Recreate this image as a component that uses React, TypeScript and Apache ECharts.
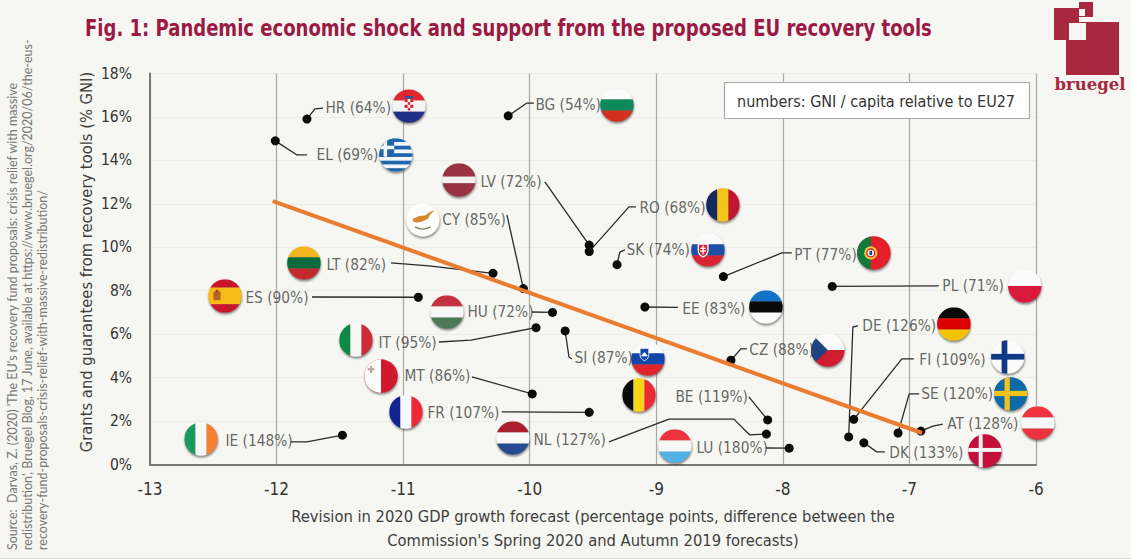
import React, { useEffect, useRef } from "react";
import * as echarts from "echarts";

const TITLE = "Fig. 1: Pandemic economic shock and support from the proposed EU recovery tools";
const Y_NAME = "Grants and guarantees from recovery tools (% GNI)";
const X_NAME = "Revision in 2020 GDP growth forecast (percentage points, difference between the\nCommission's Spring 2020 and Autumn 2019 forecasts)";
const NOTE = "numbers: GNI / capita relative to EU27";
const SOURCE_LINES = [
  "Source:  Darvas, Z. (2020) 'The EU's recovery fund proposals: crisis relief with massive",
  "redistribution', Bruegel Blog, 17 June, available at https://www.bruegel.org/2020/06/the-eus-",
  "recovery-fund-proposals-crisis-relief-with-massive-redistribution/",
];

const countries = ["HR","BG","EL","LV","RO","SK","LT","CY","PT","PL","ES","HU","EE","IT","SI","CZ","MT","FR","BE","NL","LU","IE","DE","FI","SE","AT","DK"];
const gni = [64,54,69,72,68,74,82,85,77,71,90,72,83,95,87,88,86,107,119,127,180,148,126,109,120,128,133];
const gdpRevision = [-11.76,-10.17,-12.01,-9.53,-9.53,-9.31,-10.29,-10.05,-8.47,-7.61,-10.88,-9.82,-9.09,-9.95,-9.72,-8.41,-9.98,-9.53,-8.12,-8.13,-7.95,-11.48,-7.48,-7.44,-7.09,-6.91,-7.36];
const support = [15.9,16.05,14.9,10.1,9.8,9.2,8.8,8.1,8.65,8.2,7.7,7.0,7.25,6.3,6.15,4.8,3.25,2.4,2.05,1.4,0.75,1.35,1.27,2.08,1.45,1.54,1.0];
const trendLine = [[-12.03,12.13],[-6.9,1.45]];

// annotation anchors, in axis units
const flagAt: Record<string, number[]> = {
  HR:[-10.954,16.5],BG:[-9.311,16.55],EL:[-11.057,14.25],LV:[-10.559,13.1],CY:[-10.844,11.26],RO:[-8.474,11.95],SK:[-8.592,9.88],
  PT:[-7.281,9.74],LT:[-11.784,9.28],ES:[-12.408,7.76],HU:[-10.654,7.02],PL:[-6.089,8.22],EE:[-8.134,7.25],IT:[-11.373,5.73],
  DE:[-6.649,6.47],SI:[-9.066,4.86],CZ:[-7.645,5.27],FI:[-6.223,4.95],MT:[-11.175,4.07],SE:[-6.2,3.25],BE:[-9.137,3.2],
  FR:[-10.978,2.42],AT:[-5.986,1.91],NL:[-10.133,1.22],LU:[-8.853,0.85],DK:[-6.404,0.62],IE:[-12.597,1.17],
};
const labelAt: Record<string, number[]> = {
  HR:[-11.618,16.42],BG:[-9.959,16.55],EL:[-11.689,14.25],LV:[-10.393,13.01],CY:[-10.694,11.26],RO:[-9.137,11.81],SK:[-9.24,9.88],
  PT:[-7.913,9.65],LT:[-11.61,9.19],ES:[-12.25,7.67],HU:[-10.496,7.02],PL:[-6.744,8.22],EE:[-8.798,7.16],IT:[-11.199,5.59],
  DE:[-7.376,6.38],SI:[-9.651,4.9],CZ:[-8.269,5.27],FI:[-6.926,4.81],MT:[-10.994,4.07],SE:[-6.91,3.25],BE:[-8.853,3.11],
  FR:[-10.812,2.37],AT:[-6.705,1.86],NL:[-9.975,1.13],LU:[-8.687,0.76],DK:[-7.163,0.53],IE:[-12.408,1.08],
};
const leaderBends: Record<string, number[][]> = {
  HR:[[-11.697,16.37],[-11.633,16.41]],BG:[[-10.022,16.64],[-9.967,16.64]],EL:[[-11.839,14.25],[-11.76,14.25]],LV:[[-9.88,13.01]],
  RO:[[-9.216,11.86],[-9.161,11.86]],CY:[[-10.18,11.49]],SK:[[-9.288,9.78],[-9.248,9.88]],PT:[[-8.008,9.74],[-7.929,9.74]],
  LT:[[-10.796,9.14],[-11.096,9.28]],ES:[[-11.72,7.71]],HU:[[-9.983,7.02]],PL:[[-6.768,8.22]],EE:[[-8.829,7.23]],
  IT:[[-10.464,5.73],[-10.717,5.64]],SI:[[-9.69,4.95],[-9.667,4.86]],CZ:[[-8.332,5.32],[-8.284,5.32]],DE:[[-7.447,6.33],[-7.407,6.38]],
  FI:[[-7.06,4.86],[-6.965,4.86]],SE:[[-7.002,3.25],[-6.923,3.25]],AT:[[-6.815,1.77],[-6.736,1.86]],DK:[[-7.258,0.58],[-7.194,0.58]],
  BE:[[-8.269,3.11]],NL:[[-8.261,1.36],[-8.387,2.09],[-8.9,2.09],[-9.374,1.04]],LU:[[-8.134,0.76]],MT:[[-10.457,4.03]],FR:[[-10.22,2.42]],
  IE:[[-11.76,1.04],[-11.886,1.04]],
};

const rect = (x: number, y: number, w: number, h: number, c: string) => `<rect x='${x}' y='${y}' width='${w}' height='${h}' fill='${c}'/>`;
const hBands = (cs: string[], ws?: number[]) => {
  const weights = ws || cs.map(() => 1);
  const total = weights.reduce((a, b) => a + b, 0);
  let y = 12;
  return cs.map((c, i) => {
    const h = (76 * weights[i]) / total;
    const s = rect(0, y, 100, h + 0.3, c);
    y += h;
    return s;
  }).join("");
};
const vBands = (cs: string[]) => cs.map((c, i) => rect(12 + (i * 76) / cs.length, 0, 76 / cs.length + 0.3, 100, c)).join("");
const nordic = (bg: string, fg: string, t = 14) => rect(0, 0, 100, 100, bg) + rect(36, 0, t, 100, fg) + rect(0, 43, 100, t, fg);

const flagArt: Record<string, string> = {
  HR: hBands(["#e2262d","#f4f4f4","#1f2f86"]) + rect(40,34,20,26,"#fff") + rect(40,34,7,7,"#d8232a") + rect(53,34,7,7,"#d8232a") + rect(47,41,6,6,"#d8232a") + rect(40,47,7,7,"#d8232a") + rect(53,47,7,7,"#d8232a") + rect(47,54,6,6,"#d8232a") + rect(40,27,20,6,"#35509a"),
  BG: hBands(["#fbfbfb","#0c8a5c","#d3301f"]),
  EL: rect(0,0,100,100,"#f4f6fa") + [12,29,46,63,80].map((y) => rect(0,y,100,8.5,"#1e67ad")).join("") + rect(0,12,46,42,"#1e67ad") + rect(22,12,8,42,"#f4f6fa") + rect(0,29,46,8,"#f4f6fa"),
  LV: hBands(["#983341","#f4f0ee","#983341"],[2,1,2]),
  CY: rect(0,0,100,100,"#fdfdfb") + "<path d='M27 48 L42 41 L55 40 L64 33 L78 27 L66 38 L62 47 L50 53 L38 56 L29 55Z' fill='#d8882a'/><path d='M32 66 Q50 76 68 66' stroke='#7f8a60' stroke-width='3' fill='none'/>",
  RO: vBands(["#16295f","#f5c41a","#c2152f"]),
  SK: hBands(["#fbfbfb","#1d4fa6","#d92232"]) + "<path d='M28 37 H50 V52 Q50 61 39 66 Q28 61 28 52Z' fill='#d92232' stroke='#fff' stroke-width='3'/>" + rect(37.5,40,3,20,"#fff") + rect(33,45,12,3,"#fff") + rect(32,51,14,3,"#fff"),
  PT: rect(0,0,100,100,"#e3202a") + rect(0,0,43,100,"#0f7a3a") + "<circle cx='43' cy='50' r='15' fill='#f0cb3c'/><circle cx='43' cy='50' r='9' fill='#fff' stroke='#d8232a' stroke-width='3'/><rect x='40' y='45' width='6' height='10' fill='#1f3f90'/>",
  LT: hBands(["#f3b61f","#0b6a3e","#c12a2e"]),
  ES: hBands(["#c8152b","#f6bb14","#c8152b"],[1,2,1]) + "<rect x='24' y='40' width='16' height='20' rx='3' fill='#b5612a'/><rect x='29' y='36' width='6' height='5' fill='#a0352a'/>",
  HU: hBands(["#c4313f","#f6f6f4","#4c7a56"]),
  PL: hBands(["#fbfbfb","#d91a3c"]),
  EE: hBands(["#1273c9","#0a0a0a","#fbfbfb"]),
  IT: vBands(["#0f8a45","#f8f8f6","#ce2b37"]),
  DE: hBands(["#0a0a0a","#dd0000","#f5c400"]),
  SI: hBands(["#fbfbfb","#1147a8","#e0242c"]) + "<path d='M32 26 H52 V40 Q52 50 42 54 Q32 50 32 40Z' fill='#1147a8' stroke='#f6f6f6' stroke-width='2'/><path d='M34 44 L42 34 L50 44Z' fill='#fff'/>",
  CZ: hBands(["#fbfbfb","#cf1c2f"]) + "<path d='M0 0 L50 50 L0 100Z' fill='#1f4483'/>",
  FI: nordic("#fbfbfb","#103a85",13),
  MT: rect(0,0,100,100,"#d1192e") + rect(0,0,50,100,"#fbfbfb") + rect(25,27,5,16,"#b9a8a8") + rect(20,32,15,5,"#b9a8a8"),
  SE: nordic("#0c6aa6","#f2c21d",12),
  BE: vBands(["#0a0a0a","#f7d518","#ec2a35"]),
  FR: vBands(["#11248f","#f8f8f8","#ee2a39"]),
  AT: hBands(["#ee3340","#f8f8f8","#ee3340"]),
  NL: hBands(["#ab1f2d","#f8f8f8","#274a91"]),
  LU: hBands(["#ee3340","#f8f8f8","#51b2e6"]),
  DK: nordic("#c2103a","#f4f4f4",9),
  IE: vBands(["#179a5c","#f8f8f8","#f57f35"]),
};
const flagUri = (code: string) => {
  const svg = `<svg xmlns='http://www.w3.org/2000/svg' viewBox='0 0 100 100' width='100' height='100'><defs><clipPath id='c'><circle cx='50' cy='50' r='38'/></clipPath><filter id='s' x='-30%' y='-30%' width='160%' height='160%'><feGaussianBlur stdDeviation='2.5'/></filter></defs><circle cx='51' cy='54' r='38' fill='#000' opacity='.45' filter='url(#s)'/><g clip-path='url(#c)'>${flagArt[code]}</g></svg>`;
  return "image://data:image/svg+xml;charset=utf-8," + encodeURIComponent(svg);
};

const FONT = "'DejaVu Sans Condensed', 'DejaVu Sans', sans-serif";
const BG = "#f6f6f2";
const INK = "#3f3f3f";
const LOGO = "#a9273f";

export default function App() {
  const ref = useRef<HTMLDivElement>(null);
  useEffect(() => {
    document.body.style.margin = "0";
    document.body.style.background = BG;
    const chart = echarts.init(ref.current!, null, { renderer: "svg" });
    const leaderSeries = countries.map((c, i) => ({
      type: "line", name: c + " leader", silent: true, showSymbol: false, symbol: "none", z: 3,
      lineStyle: { color: "#2a2a2a", width: 1.3 },
      data: [[gdpRevision[i], support[i]], ...leaderBends[c]],
    }));
    chart.setOption({
      animation: false,
      backgroundColor: BG,
      grid: { left: 150, right: 95, top: 73.5, bottom: 94.5 },
      xAxis: {
        type: "value", min: -13, max: -6, interval: 1,
        name: X_NAME, nameLocation: "middle", nameGap: 40,
        nameTextStyle: { fontFamily: FONT, fontSize: 16.4, color: INK, lineHeight: 24 },
        axisLine: { show: true, onZero: false, lineStyle: { color: "#777", width: 2 } },
        axisTick: { show: false },
        axisLabel: { fontFamily: FONT, fontSize: 17, color: "#333", margin: 16 },
        splitLine: { show: true, lineStyle: { color: "#a8a8a4", width: 1.2 } },
      },
      yAxis: {
        type: "value", min: 0, max: 18, interval: 2,
        name: Y_NAME, nameLocation: "middle", nameGap: 56, nameMoveOverlap: false,
        nameTextStyle: { fontFamily: FONT, fontSize: 16.4, color: INK, padding: [0, 0, 0, 14] },
        axisLine: { show: true, onZero: false, lineStyle: { color: "#777", width: 2 } },
        axisTick: { show: false },
        axisLabel: { fontFamily: FONT, fontSize: 15.5, color: "#333", margin: 18, formatter: "{value}%" },
        splitLine: { show: true, lineStyle: { color: "#ecece8", width: 1.2 } },
      },
      series: [
        ...leaderSeries,
        {
          type: "scatter", name: "Countries", symbol: "circle", symbolSize: 9, z: 4,
          itemStyle: { color: "#0a0a0a", opacity: 1 },
          data: countries.map((c, i) => ({ name: c, value: [gdpRevision[i], support[i]] })),
        },
        {
          type: "line", name: "Trend", showSymbol: false, symbol: "none", z: 5,
          lineStyle: { color: "#e97c30", width: 4 },
          data: trendLine,
        },
        {
          type: "scatter", name: "Flags", z: 6, symbolSize: 44, clip: false,
          itemStyle: { opacity: 1 },
          data: countries.map((c) => ({ name: c, value: flagAt[c], symbol: flagUri(c) })),
        },
        {
          type: "scatter", name: "Labels", z: 7, symbolSize: 1, clip: false,
          itemStyle: { color: "rgba(0,0,0,0)" },
          label: {
            show: true, position: "right", distance: 0, fontFamily: FONT, fontSize: 15.3, color: INK,
            formatter: (p: any) => `${p.name} (${p.data.gni}%)`,
          },
          data: countries.map((c, i) => ({ name: c, gni: gni[i], value: labelAt[c] })),
        },
      ],
      graphic: [
        { type: "text", z: 21, x: 85, y: 28, scaleX: 0.872, style: { text: TITLE, fontFamily: FONT, fontWeight: "bold", fontSize: 23, fill: "#9a1a44", textAlign: "left", textVerticalAlign: "middle" } },
        { type: "rect", z: 20, shape: { x: 724.5, y: 82.5, width: 305, height: 36 }, style: { fill: "#ffffff", stroke: "#a8a8a8", lineWidth: 1.2 } },
        { type: "text", z: 21, x: 876, y: 101, style: { text: NOTE, fontFamily: FONT, fontSize: 16, fill: "#333", textAlign: "center", textVerticalAlign: "middle" } },
        ...SOURCE_LINES.map((line, i) => ({
          type: "text", z: 21, x: 12.5 + i * 15, y: 550, rotation: Math.PI / 2,
          style: { text: line, fontFamily: "Lato, sans-serif", fontSize: 12.5, fill: "#777", textAlign: "left", textVerticalAlign: "middle" },
        })),
        { type: "rect", z: 21, shape: { x: 1066, y: 22, width: 53, height: 53 }, style: { fill: LOGO } },
        { type: "rect", z: 21, shape: { x: 1054, y: 8, width: 25, height: 32 }, style: { fill: LOGO } },
        { type: "rect", z: 21, shape: { x: 1079, y: 2, width: 14, height: 15 }, style: { fill: LOGO } },
        { type: "rect", z: 22, shape: { x: 1069, y: 23, width: 17, height: 17 }, style: { fill: BG } },
        { type: "rect", z: 22, shape: { x: 1079, y: 9, width: 6, height: 7 }, style: { fill: BG } },
        { type: "text", z: 22, x: 1090, y: 84, style: { text: "bruegel", fontFamily: "'DejaVu Serif', serif", fontWeight: "bold", fontSize: 16.5, fill: LOGO, textAlign: "center", textVerticalAlign: "middle" } },
        { type: "rect", z: 21, shape: { x: 0, y: 558, width: 1131, height: 1 }, style: { fill: "#dcdcdc" } },
      ],
    });
    return () => chart.dispose();
  }, []);
  return <div ref={ref} style={{ width: 1131, height: 559 }} />;
}
